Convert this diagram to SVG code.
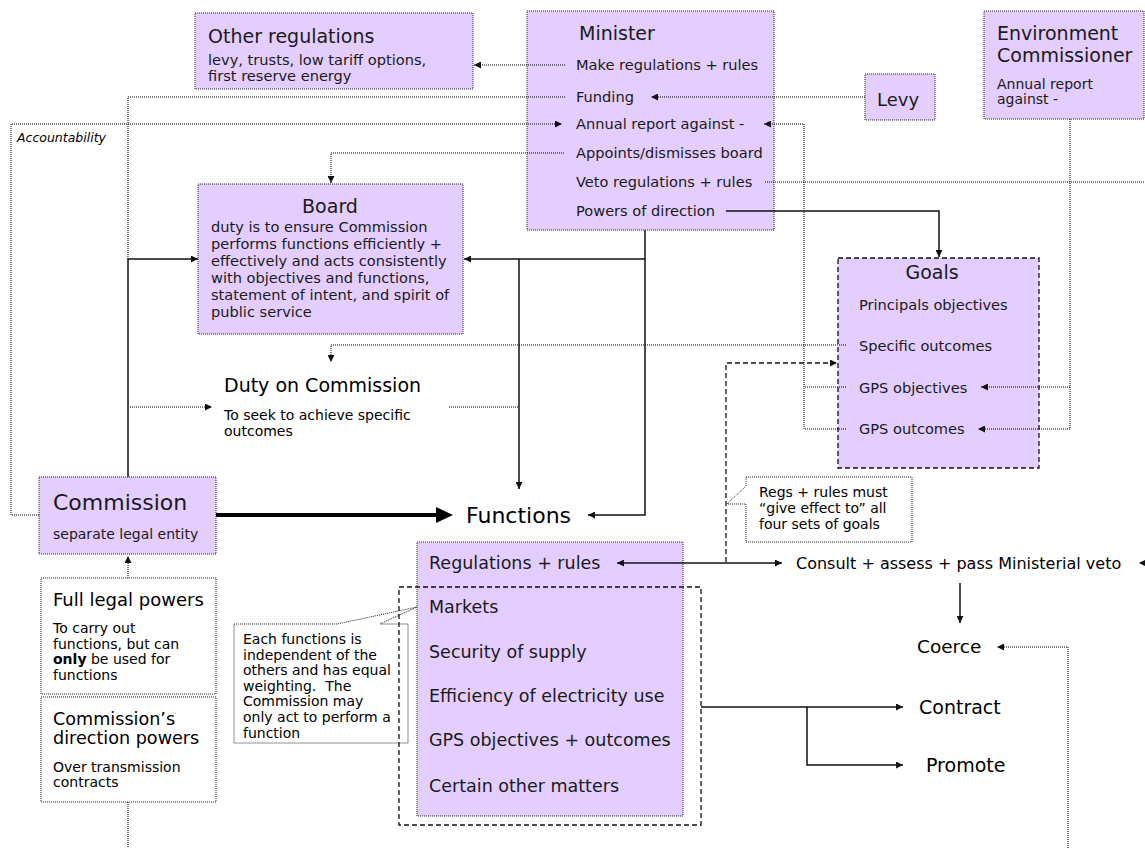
<svg xmlns="http://www.w3.org/2000/svg" width="1145" height="848" viewBox="0 0 1145 848">
  <style>
    text { font-family: "DejaVu Sans", "Liberation Sans", sans-serif; fill: #1a1a1a; }
    .t14 { font-size: 14px; }
    .t145 { font-size: 14.6px; }
    .t17 { font-size: 17.5px; }
    .t18 { font-size: 18px; }
    .t19 { font-size: 19px; }
    .t22 { font-size: 22px; }
    .blk { fill: #000; }
    .box { fill: #E4CEFF; stroke: #222; stroke-width: 1; stroke-dasharray: 1 1; }
    .wbox { fill: #fff; stroke: #222; stroke-width: 1; stroke-dasharray: 1 1; }
    .dbox { fill: none; stroke: #111; stroke-width: 1.3; stroke-dasharray: 5 3; }
    .dot { fill: none; stroke: #000; stroke-width: 1; stroke-dasharray: 1 1; }
    .sol { fill: none; stroke: #111; stroke-width: 1.5; }
    .dash { fill: none; stroke: #111; stroke-width: 1.3; stroke-dasharray: 5 3; }
  </style>
  <defs>
    <marker id="ah" markerUnits="userSpaceOnUse" markerWidth="8" markerHeight="7" refX="7" refY="3.5" orient="auto">
      <path d="M0,0 L7,3.5 L0,7 Z" fill="#111"/>
    </marker>
    <marker id="ahs" markerUnits="userSpaceOnUse" markerWidth="8" markerHeight="7" refX="0" refY="3.5" orient="auto">
      <path d="M7,0 L0,3.5 L7,7 Z" fill="#111"/>
    </marker>
    <marker id="big" markerUnits="userSpaceOnUse" markerWidth="18" markerHeight="18" refX="0" refY="9" orient="auto">
      <path d="M0,1 L17,9 L0,17 Z" fill="#000"/>
    </marker>
  </defs>

  <!-- nodes -->
  <g id="other-regulations">
    <rect class="box" x="195" y="13" width="278" height="76"/>
    <text class="t19" x="208" y="43">Other regulations</text>
    <text class="t145" x="208" y="65">levy, trusts, low tariff options,</text>
    <text class="t145" x="208" y="81">first reserve energy</text>
  </g>

  <g id="minister">
    <rect class="box" x="527" y="11" width="247" height="219"/>
    <text class="t19" x="579" y="40">Minister</text>
    <text class="t145" x="576" y="70">Make regulations + rules</text>
    <text class="t145" x="576" y="102">Funding</text>
    <text class="t145" x="576" y="129">Annual report against -</text>
    <text class="t145" x="576" y="158">Appoints/dismisses board</text>
    <text class="t145" x="576" y="187">Veto regulations + rules</text>
    <text class="t145" x="576" y="216">Powers of direction</text>
  </g>

  <g id="levy">
    <rect class="box" x="865" y="74" width="70" height="46"/>
    <text class="t18" x="877" y="106">Levy</text>
  </g>

  <g id="environment-commissioner">
    <rect class="box" x="984" y="11" width="160" height="108"/>
    <text class="t19" x="997" y="40">Environment</text>
    <text class="t19" x="997" y="62">Commissioner</text>
    <text class="t14" x="997" y="89">Annual report</text>
    <text class="t14" x="997" y="104">against -</text>
  </g>

  <g id="board">
    <rect class="box" x="198" y="184" width="265" height="150"/>
    <text class="t19" x="330" y="213" text-anchor="middle">Board</text>
    <text class="t145" x="211" y="232">duty is to ensure Commission</text>
    <text class="t145" x="211" y="249">performs functions efficiently +</text>
    <text class="t145" x="211" y="266">effectively and acts consistently</text>
    <text class="t145" x="211" y="283">with objectives and functions,</text>
    <text class="t145" x="211" y="300">statement of intent, and spirit of</text>
    <text class="t145" x="211" y="317">public service</text>
  </g>

  <g id="goals">
    <rect class="dbox" x="838" y="258" width="201" height="210" style="fill:#E4CEFF"/>
    <text class="t19" x="932" y="279" text-anchor="middle">Goals</text>
    <text class="t145" x="859" y="310">Principals objectives</text>
    <text class="t145" x="859" y="351">Specific outcomes</text>
    <text class="t145" x="859" y="393">GPS objectives</text>
    <text class="t145" x="859" y="434">GPS outcomes</text>
  </g>

  <g id="duty-on-commission">
    <text class="t19 blk" x="224" y="392">Duty on Commission</text>
    <text class="t14 blk" x="224" y="420">To seek to achieve specific</text>
    <text class="t14 blk" x="224" y="436">outcomes</text>
  </g>

  <g id="commission">
    <rect class="box" x="39" y="477" width="177" height="77"/>
    <text class="t22" x="53" y="510">Commission</text>
    <text class="t14" x="53" y="539">separate legal entity</text>
  </g>

  <g id="functions-title">
    <text class="t22 blk" x="466" y="523">Functions</text>
  </g>

  <g id="full-legal-powers">
    <rect class="wbox" x="41" y="578" width="175" height="116"/>
    <text class="t18 blk" x="53" y="606">Full legal powers</text>
    <text class="t14 blk" x="53" y="633">To carry out</text>
    <text class="t14 blk" x="53" y="648.5">functions, but can</text>
    <text class="t14 blk" x="53" y="664"><tspan font-weight="bold">only</tspan> be used for</text>
    <text class="t14 blk" x="53" y="679.5">functions</text>
  </g>

  <g id="direction-powers">
    <rect class="wbox" x="41" y="697" width="175" height="105"/>
    <text class="blk" x="53" y="724.5" style="font-size:17.6px">Commission’s</text>
    <text class="blk" x="53" y="744" style="font-size:17.6px">direction powers</text>
    <text class="t14 blk" x="53" y="772">Over transmission</text>
    <text class="t14 blk" x="53" y="787">contracts</text>
  </g>

  <g id="functions">
    <rect class="box" x="417" y="542" width="266" height="274"/>
    <text class="t17" x="429" y="569">Regulations + rules</text>
    <text class="t17" x="429" y="613">Markets</text>
    <text class="t17" x="429" y="657.5">Security of supply</text>
    <text class="t17" x="429" y="701.5">Efficiency of electricity use</text>
    <text class="t17" x="429" y="745.5">GPS objectives + outcomes</text>
    <text class="t17" x="429" y="792">Certain other matters</text>
  </g>

  <g id="functions-note">
    <path class="wbox" d="M234,624 H337 L417,607 L380,624 H408 V743 H234 Z"/>
    <text class="t14 blk" x="243" y="644">Each functions is</text>
    <text class="t14 blk" x="243" y="659.6">independent of the</text>
    <text class="t14 blk" x="243" y="675.2">others and has equal</text>
    <text class="t14 blk" x="243" y="690.8" xml:space="preserve">weighting.  The</text>
    <text class="t14 blk" x="243" y="706.4">Commission may</text>
    <text class="t14 blk" x="243" y="722">only act to perform a</text>
    <text class="t14 blk" x="243" y="737.6">function</text>
  </g>

  <g id="functions-group">
    <rect class="dbox" x="399" y="587" width="302" height="238"/>
  </g>

  <g id="regs-note">
    <path class="wbox" d="M746,477 H912 V542 H746 V504 H727 L746,486 Z"/>
    <text class="t14 blk" x="759" y="497">Regs + rules must</text>
    <text class="t14 blk" x="759" y="513">“give effect to” all</text>
    <text class="t14 blk" x="759" y="529">four sets of goals</text>
  </g>

  <g id="consult">
    <text class="blk" x="796" y="569" style="font-size:16px">Consult + assess + pass Ministerial veto</text>
  </g>
  <g id="coerce"><text class="blk" x="917" y="653" style="font-size:18.5px">Coerce</text></g>
  <g id="contract"><text class="t19 blk" x="919" y="713.5">Contract</text></g>
  <g id="promote"><text class="t19 blk" x="926" y="771.5">Promote</text></g>

  <g id="accountability-label">
    <text class="blk" x="17" y="142" style="font-size:12.5px;font-style:italic">Accountability</text>
  </g>

  <!-- connectors -->
  <g id="connectors">
    <!-- dotted links -->
    <path class="dot" d="M565,65 H474" marker-end="url(#ah)"/>
    <path class="dot" d="M565,97 H128 V259"/>
    <path class="dot" d="M865,97 H651" marker-end="url(#ah)"/>
    <path class="dot" d="M39,515 H11 V124 H562" marker-end="url(#ah)"/>
    <path class="dot" d="M846,429 H804 V124 H764" marker-end="url(#ah)"/>
    <path class="dot" d="M846,387 H804"/>
    <path class="dot" d="M564,153 H331 V183" marker-end="url(#ah)"/>
    <path class="dot" d="M765,182 H1145"/>
    <path class="dot" d="M1145,563 H1139" marker-end="url(#ah)"/>
    <path class="dot" d="M846,345 H331 V362" marker-end="url(#ah)"/>
    <path class="dot" d="M449,407 H519"/>
    <path class="dot" d="M130,407 H212" marker-end="url(#ah)"/>
    <path class="dot" d="M1070,119 V429 H978" marker-end="url(#ah)"/>
    <path class="dot" d="M1070,387 H981" marker-end="url(#ah)"/>
    <path class="dot" d="M128,578 V556" marker-end="url(#ah)"/>
    <path class="dot" d="M128,802 V848"/>
    <path class="dot" d="M1068,848 V647 H997" marker-end="url(#ah)"/>

    <!-- solid links -->
    <path class="sol" d="M726,211 H939 V257" marker-end="url(#ah)"/>
    <path class="sol" d="M645,230 V515 H588" marker-end="url(#ah)"/>
    <path class="sol" d="M645,259 H464" marker-end="url(#ah)"/>
    <path class="sol" d="M519,259 V489" marker-end="url(#ah)"/>
    <path class="sol" d="M128,477 V259 H198" marker-end="url(#ah)"/>
    <path class="sol" d="M617,563 H782" marker-start="url(#ahs)" marker-end="url(#ah)"/>
    <path class="sol" d="M960,583 V623" marker-end="url(#ah)"/>
    <path class="sol" d="M701,707 H903" marker-end="url(#ah)"/>
    <path class="sol" d="M807,707 V765 H903" marker-end="url(#ah)"/>
    <path d="M216,515 H436" fill="none" stroke="#000" stroke-width="4" marker-end="url(#big)"/>

    <!-- dashed link -->
    <path class="dash" d="M726,562 V363 H837" marker-end="url(#ah)"/>
  </g>
</svg>
